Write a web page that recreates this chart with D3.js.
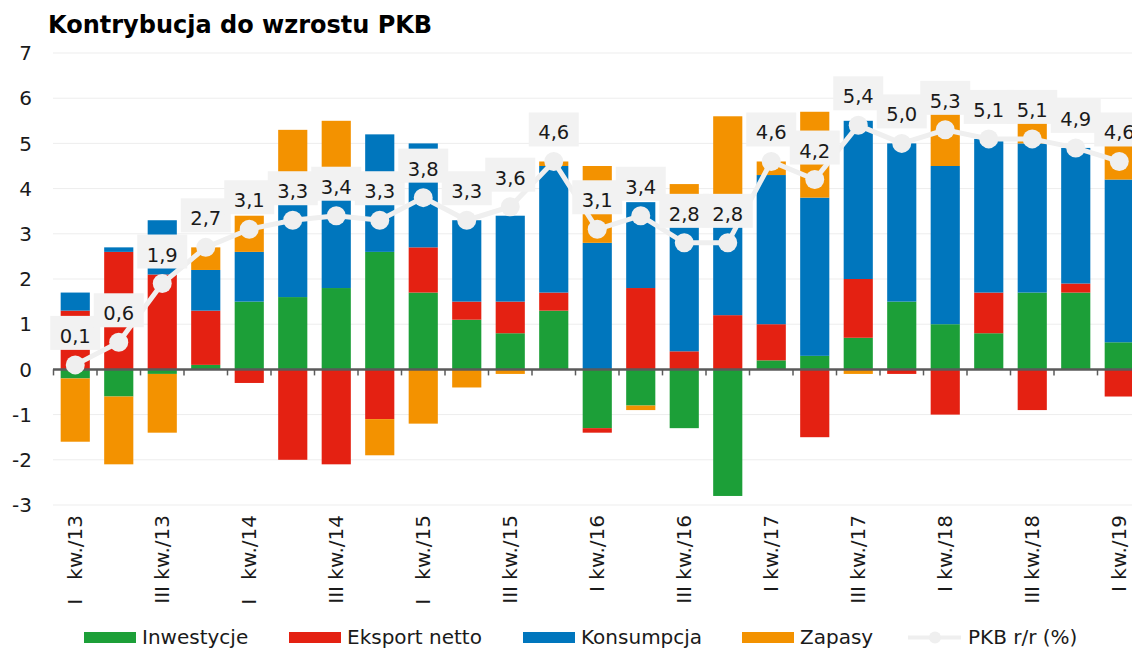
<!DOCTYPE html>
<html>
<head>
<meta charset="utf-8">
<script src="https://cdn.jsdelivr.net/npm/d3@7"></script>
<style>
body { margin: 0; background: #fff; }
svg { display: block; font-family: Verdana, "DejaVu Sans", sans-serif; }
</style>
</head>
<body>
<svg id="chart" width="1132" height="649"></svg>
<script>
// kwartaly
const categories = [
  'I   kw./13', 'II kw./13', 'III kw./13', 'IV kw./13',
  'I   kw./14', 'II kw./14', 'III kw./14', 'IV kw./14',
  'I   kw./15', 'II kw./15', 'III kw./15', 'IV kw./15',
  'I kw./16', 'II kw./16', 'III kw./16', 'IV kw./16',
  'I kw./17', 'II kw./17', 'III kw./17', 'IV kw./17',
  'I kw./18', 'II kw./18', 'III kw./18', 'IV kw./18',
  'I kw./19'
];
const inwestycje = [-0.2, -0.6, -0.1, 0.1, 1.5, 1.6, 1.8, 2.6, 1.7, 1.1, 0.8, 1.3, -1.3, -0.8, -1.3, -2.8, 0.2, 0.3, 0.7, 1.5, 1.0, 0.8, 1.7, 1.7, 0.6];
const eksportNetto = [1.3, 2.6, 2.1, 1.2, -0.3, -2.0, -2.1, -1.1, 1.0, 0.4, 0.7, 0.4, -0.1, 1.8, 0.4, 1.2, 0.8, -1.5, 1.3, -0.1, -1.0, 0.9, -0.9, 0.2, -0.6];
const konsumpcja = [0.4, 0.1, 1.2, 0.9, 1.1, 2.5, 2.4, 2.6, 2.3, 1.8, 1.9, 2.8, 2.8, 1.9, 3.2, 2.4, 3.3, 3.5, 3.5, 3.5, 3.5, 3.4, 3.3, 3.0, 3.6];
const zapasy = [-1.4, -1.5, -1.3, 0.5, 0.8, 1.2, 1.3, -0.8, -1.2, -0.4, -0.1, 0.1, 1.7, -0.1, 0.5, 2.0, 0.3, 1.9, -0.1, 0, 1.15, 0, 0.45, 0, 0.75];
const pkb = [0.1, 0.6, 1.9, 2.7, 3.1, 3.3, 3.4, 3.3, 3.8, 3.3, 3.6, 4.6, 3.1, 3.4, 2.8, 2.8, 4.6, 4.2, 5.4, 5.0, 5.3, 5.1, 5.1, 4.9, 4.6];
const yTicks = [-3, -2, -1, 0, 1, 2, 3, 4, 5, 6, 7];

const seriesNames = ['Inwestycje', 'Eksport netto', 'Konsumpcja', 'Zapasy'];
const colors = ['#1c9f38', '#e42112', '#0076bd', '#f39200'];
const lineColor = '#efefef';

const svg = d3.select('#chart');

const x = d3.scaleBand()
  .domain(categories)
  .range([53.5, 1141])
  .paddingInner(0.33)
  .paddingOuter(0.165);

const y = d3.scaleLinear().domain([-3, 7]).range([505, 53]);

// tytul
svg.append('text')
  .attr('x', 48).attr('y', 33)
  .style('font-size', '24px').style('font-weight', 'bold')
  .text('Kontrybucja do wzrostu PKB');

// siatka
svg.append('g')
  .selectAll('line')
  .data(yTicks.filter(d => d !== 0))
  .enter()
  .append('line')
  .attr('x1', 53).attr('x2', 1132)
  .attr('y1', d => y(d)).attr('y2', d => y(d))
  .attr('stroke', '#ededed').attr('stroke-width', 1);

svg.append('g')
  .selectAll('text')
  .data(yTicks)
  .enter()
  .append('text')
  .attr('x', 32).attr('y', d => y(d))
  .attr('dy', '0.36em')
  .attr('text-anchor', 'end')
  .style('font-size', '20px').style('fill', '#1a1a1a')
  .text(d => d);

// slupki
const table = categories.map((c, i) => ({
  cat: c,
  'Inwestycje': inwestycje[i],
  'Eksport netto': eksportNetto[i],
  'Konsumpcja': konsumpcja[i],
  'Zapasy': zapasy[i]
}));

const stacked = d3.stack().keys(seriesNames).offset(d3.stackOffsetDiverging)(table);

svg.append('g')
  .selectAll('g')
  .data(stacked)
  .enter()
  .append('g')
  .attr('fill', (d, i) => colors[i])
  .selectAll('rect')
  .data(d => d)
  .enter()
  .append('rect')
  .attr('x', d => x(d.data.cat))
  .attr('width', x.bandwidth())
  .attr('y', d => y(Math.max(d[0], d[1])))
  .attr('height', d => Math.abs(y(d[0]) - y(d[1])));

// os x
const axisG = svg.append('g');
axisG.append('line')
  .attr('x1', 53).attr('x2', 1132)
  .attr('y1', y(0)).attr('y2', y(0))
  .attr('stroke', '#5a5a5a').attr('stroke-width', 2.5);

axisG.selectAll('line.tick')
  .data(d3.range(categories.length + 1))
  .enter()
  .append('line')
  .attr('class', 'tick')
  .attr('x1', i => 53.5 + i * x.step()).attr('x2', i => 53.5 + i * x.step())
  .attr('y1', y(0)).attr('y2', y(0) + 6)
  .attr('stroke', '#5a5a5a').attr('stroke-width', 1.5);

svg.append('g')
  .selectAll('text')
  .data(categories.filter((c, i) => i % 2 === 0))
  .enter()
  .append('text')
  .attr('transform', c => `translate(${x(c) + x.bandwidth() / 2},515) rotate(-90)`)
  .attr('dy', '0.35em')
  .attr('text-anchor', 'end')
  .style('font-size', '20px').style('fill', '#1a1a1a')
  .style('white-space', 'pre')
  .text(c => c);

// linia PKB
const line = d3.line()
  .x((d, i) => x(categories[i]) + x.bandwidth() / 2)
  .y(d => y(d));

svg.append('path')
  .datum(pkb)
  .attr('d', line)
  .attr('fill', 'none')
  .attr('stroke', lineColor)
  .attr('stroke-width', 5);

svg.append('g')
  .selectAll('circle')
  .data(pkb)
  .enter()
  .append('circle')
  .attr('cx', (d, i) => x(categories[i]) + x.bandwidth() / 2)
  .attr('cy', d => y(d))
  .attr('r', 9.5)
  .attr('fill', lineColor);

// etykiety
const fmt = d => d.toFixed(1).replace('.', ',');
const labels = svg.append('g');
pkb.forEach((v, i) => {
  const cx = x(categories[i]) + x.bandwidth() / 2;
  const bottom = y(v) - 15;
  const g = labels.append('g');
  const rect = g.append('rect').attr('fill', '#f2f2f2');
  const t = g.append('text')
    .attr('x', cx).attr('y', bottom - 7)
    .attr('text-anchor', 'middle')
    .style('font-size', '19.5px').style('fill', '#1a1a1a')
    .text(fmt(v));
  const w = t.node().getComputedTextLength() + 19;
  rect.attr('x', cx - w / 2).attr('y', bottom - 34).attr('width', w).attr('height', 34);
});

// legenda
const legendItems = [
  {name: 'Inwestycje', x: 84, color: colors[0]},
  {name: 'Eksport netto', x: 289, color: colors[1]},
  {name: 'Konsumpcja', x: 523, color: colors[2]},
  {name: 'Zapasy', x: 742, color: colors[3]}
];
const legend = svg.append('g');
legendItems.forEach(it => {
  legend.append('rect')
    .attr('x', it.x).attr('y', 632).attr('width', 52).attr('height', 11)
    .attr('fill', it.color);
  legend.append('text')
    .attr('x', it.x + 58).attr('y', 644)
    .style('font-size', '20px').style('fill', '#1a1a1a')
    .text(it.name);
});
legend.append('line')
  .attr('x1', 908).attr('x2', 961).attr('y1', 637.5).attr('y2', 637.5)
  .attr('stroke', lineColor).attr('stroke-width', 4);
legend.append('circle')
  .attr('cx', 935).attr('cy', 637.5).attr('r', 6).attr('fill', lineColor);
legend.append('text')
  .attr('x', 968).attr('y', 644)
  .style('font-size', '20px').style('fill', '#1a1a1a')
  .text('PKB r/r (%)');
</script>
</body>
</html>
